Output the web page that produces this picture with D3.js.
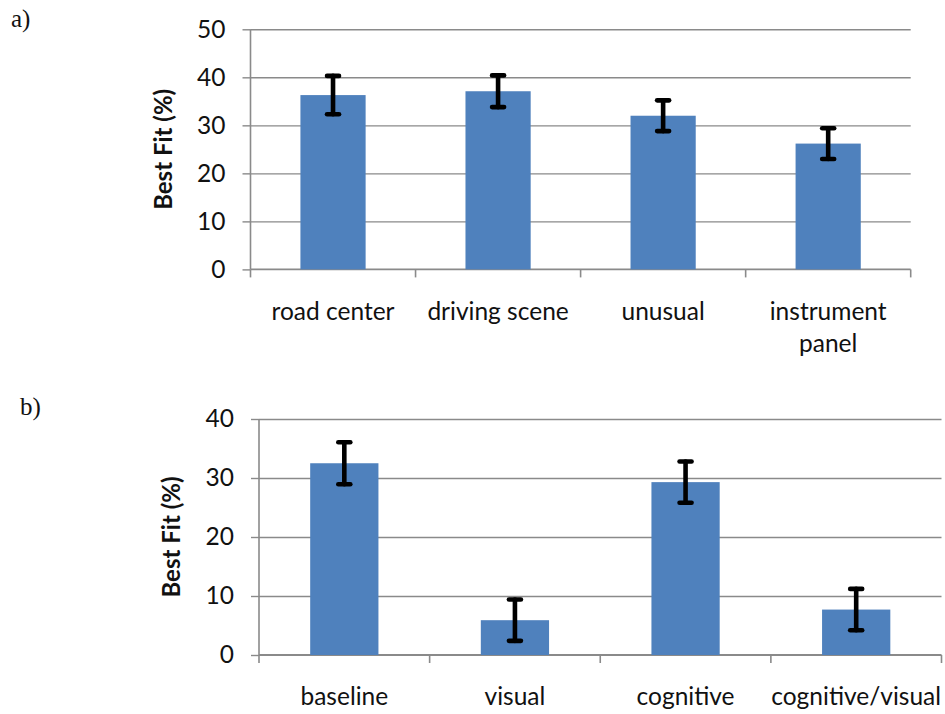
<!DOCTYPE html>
<html>
<head>
<meta charset="utf-8">
<script src="https://cdn.jsdelivr.net/npm/d3@7/dist/d3.min.js"></script>
<style>
  html, body { margin: 0; padding: 0; background: #fff; }
  svg { display: block; }
</style>
</head>
<body>
<svg id="chart" width="945" height="714"></svg>
<script>
// ── Data ─────────────────────────────────────────────────────────────────
const catsA = ['road center', 'driving scene', 'unusual', 'instrument\npanel'];
const valsA = [36.3, 37.1, 32.0, 26.2];
const errA  = [4.0, 3.3, 3.2, 3.2];
const ticksA = [0, 10, 20, 30, 40, 50];

const catsB = ['baseline', 'visual', 'cognitive', 'cognitive/visual'];
const valsB = [32.5, 5.9, 29.3, 7.7];
const errB  = [3.55, 3.5, 3.5, 3.5];
const ticksB = [0, 10, 20, 30, 40];

const BAR = '#4f81bd', GRID = '#8a8a8a';
const FONT = 'Lato, "Open Sans", sans-serif';

const svg = d3.select('#chart');

function panel(opt) {
  const { cats, vals, errs, ticks, left, right, top, bottom, pad, labelY, titleX, tag, tagX, tagY } = opt;
  const g = svg.append('g');

  const x = d3.scaleBand().domain(cats).range([left, right])
    .paddingInner(pad).paddingOuter(pad / 2);
  const y = d3.scaleLinear().domain([0, d3.max(ticks)]).range([bottom, top]);

  // gridlines
  g.append('g')
    .attr('transform', `translate(${left},0)`)
    .call(d3.axisLeft(y).tickValues(ticks.slice(1)).tickSize(-(right - left)).tickFormat(''))
    .call(a => a.select('.domain').remove())
    .call(a => a.selectAll('line').attr('stroke', GRID).attr('stroke-width', 1.4));

  // y axis
  g.append('g')
    .attr('transform', `translate(${left},0)`)
    .call(d3.axisLeft(y).tickValues(ticks).tickSize(8).tickPadding(17).tickFormat(d3.format('d')))
    .call(a => a.select('.domain').attr('stroke', GRID).attr('stroke-width', 1.6)
      .attr('d', `M0,${top}V${bottom}`))
    .call(a => a.selectAll('line').attr('stroke', GRID).attr('stroke-width', 1.4))
    .call(a => a.selectAll('text').attr('font-family', FONT).attr('font-size', 24.5)
      .attr('fill', '#111'));

  // x axis with boundary ticks
  const bounds = d3.range(cats.length + 1).map(i => left + i * x.step());
  g.append('line')
    .attr('x1', left).attr('x2', right).attr('y1', bottom).attr('y2', bottom)
    .attr('stroke', GRID).attr('stroke-width', 1.8);
  g.selectAll('line.xt').data(bounds).join('line').attr('class', 'xt')
    .attr('x1', d => d).attr('x2', d => d)
    .attr('y1', bottom).attr('y2', bottom + 8)
    .attr('stroke', GRID).attr('stroke-width', 1.6);

  // bars
  g.selectAll('rect.bar').data(vals).join('rect').attr('class', 'bar')
    .attr('x', (d, i) => x(cats[i]))
    .attr('y', d => y(d))
    .attr('width', x.bandwidth())
    .attr('height', d => y(0) - y(d))
    .attr('fill', BAR);

  // error bars
  const eg = g.append('g').attr('stroke', '#000').attr('stroke-width', 4.6)
    .attr('stroke-linecap', 'round');
  vals.forEach((v, i) => {
    const cx = x(cats[i]) + x.bandwidth() / 2;
    const y1 = y(v + errs[i]), y2 = y(v - errs[i]);
    eg.append('line').attr('x1', cx).attr('x2', cx).attr('y1', y1).attr('y2', y2);
    [y1, y2].forEach(yy => eg.append('line')
      .attr('x1', cx - 6).attr('x2', cx + 6).attr('y1', yy).attr('y2', yy));
  });

  // category labels
  cats.forEach(c => {
    const t = g.append('text')
      .attr('x', x(c) + x.bandwidth() / 2).attr('y', labelY)
      .attr('text-anchor', 'middle')
      .attr('font-family', FONT).attr('font-size', 24.5).attr('fill', '#111');
    c.split('\n').forEach((ln, li) => {
      t.append('tspan').attr('x', x(c) + x.bandwidth() / 2)
        .attr('dy', li === 0 ? 0 : 32).text(ln);
    });
  });

  // y title
  g.append('text')
    .attr('transform', `translate(${titleX},${(top + bottom) / 2}) rotate(-90)`)
    .attr('text-anchor', 'middle').attr('dy', '0.35em')
    .attr('font-family', FONT).attr('font-weight', 'bold').attr('font-size', 24)
    .attr('fill', '#111')
    .text('Best Fit (%)');

  // panel tag
  g.append('text')
    .attr('x', tagX).attr('y', tagY)
    .attr('font-family', '"Liberation Serif", "Times New Roman", serif')
    .attr('font-size', 25).attr('fill', '#111')
    .text(tag);
}

panel({ cats: catsA, vals: valsA, errs: errA, ticks: ticksA,
  left: 250.5, right: 910.7, top: 29.3, bottom: 269.4, pad: 0.605,
  labelY: 320, titleX: 164, tag: 'a)', tagX: 11, tagY: 27 });

panel({ cats: catsB, vals: valsB, errs: errB, ticks: ticksB,
  left: 259, right: 941.5, top: 419, bottom: 655, pad: 0.6,
  labelY: 705, titleX: 172, tag: 'b)', tagX: 20, tagY: 415 });
</script>
</body>
</html>
